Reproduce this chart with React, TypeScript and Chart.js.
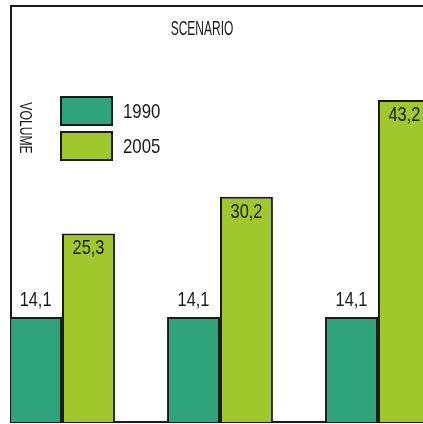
import React, { useEffect, useRef } from 'react';
import { Chart, registerables } from 'chart.js';

Chart.register(...registerables);

// ---- data ----
const groupPositions = [1, 2, 3];
const values1990 = [14.1, 14.1, 14.1];
const values2005 = [25.3, 30.2, 43.2];
const seriesNames = ['1990', '2005'];
const chartTitle = 'SCENARIO';
const axisLabel = 'VOLUME';
const xRange = [0.677, 3.285];
const yRange = [0, 55.8];

// ---- styles ----
const FONT = '"Liberation Sans", Arial, sans-serif';
const INK = '#1a1a1a';
const COLOR_1990 = '#2fa37b';
const COLOR_2005 = '#a0c72c';
const LEGEND_BOX_W = 51;
const LEGEND_BOX_H = 28;

function fmt(v: number) {
  return v.toFixed(1).replace('.', ',');
}

function drawText(
  ctx: CanvasRenderingContext2D,
  text: string,
  x: number,
  y: number,
  size: number,
  sx: number,
  rot: number,
  baseline: CanvasTextBaseline,
  align: CanvasTextAlign = 'center'
) {
  ctx.save();
  ctx.translate(x, y);
  ctx.rotate(rot);
  ctx.scale(sx, 1);
  ctx.font = `${size}px ${FONT}`;
  ctx.fillStyle = INK;
  ctx.textAlign = align;
  ctx.textBaseline = baseline;
  ctx.fillText(text, 0, 0);
  ctx.restore();
}

const legendPlacer = {
  id: 'legendPlacer',
  afterLayout(chart: any) {
    const lg = chart.legend;
    if (!lg) return;
    const pad = lg.options.labels.padding;
    const left = chart.chartArea.left + 50 - pad;
    const top = chart.chartArea.top + 91 - pad;
    const w = lg.width;
    const h = lg.height;
    lg.left = left;
    lg.top = top;
    lg.right = left + w;
    lg.bottom = top + h;
  },
};

const textPlugin = {
  id: 'textPlugin',
  afterDatasetsDraw(chart: any) {
    const ctx = chart.ctx as CanvasRenderingContext2D;
    chart.data.datasets.forEach((ds: any, di: number) => {
      const meta = chart.getDatasetMeta(di);
      meta.data.forEach((bar: any, i: number) => {
        const v = ds.data[i].y;
        if (di === 0) {
          drawText(ctx, fmt(v), bar.x, bar.y - 11, 21, 0.78, 0, 'alphabetic');
        } else {
          drawText(ctx, fmt(v), bar.x, bar.y + 21, 21, 0.78, 0, 'alphabetic');
        }
      });
    });
  },
  afterDraw(chart: any) {
    const ctx = chart.ctx as CanvasRenderingContext2D;
    const a = chart.chartArea;
    drawText(ctx, chartTitle, a.left + 191, a.top + 23, 20, 0.6, 0, 'middle');
    drawText(ctx, axisLabel, a.left + 13.5, a.top + 122, 16, 0.76, Math.PI / 2, 'middle');
    const lg = chart.legend;
    if (lg && lg.legendHitBoxes) {
      lg.legendHitBoxes.forEach((hb: any, i: number) => {
        drawText(
          ctx,
          seriesNames[i],
          hb.left + LEGEND_BOX_W + 11,
          hb.top + hb.height / 2 + 1,
          21,
          0.8,
          0,
          'middle',
          'left'
        );
      });
    }
  },
};

export default function App() {
  const ref = useRef<HTMLCanvasElement | null>(null);

  useEffect(() => {
    document.body.style.margin = '0';
    document.body.style.overflow = 'hidden';
    const canvas = ref.current;
    if (!canvas) return;
    const chart = new Chart(canvas, {
      type: 'bar',
      data: {
        datasets: [
          {
            label: seriesNames[0],
            data: groupPositions.map((x, i) => ({ x, y: values1990[i] })),
            backgroundColor: COLOR_1990,
            borderColor: INK,
            borderWidth: 2,
          },
          {
            label: seriesNames[1],
            data: groupPositions.map((x, i) => ({ x, y: values2005[i] })),
            backgroundColor: COLOR_2005,
            borderColor: INK,
            borderWidth: 2,
          },
        ],
      },
      options: {
        responsive: false,
        animation: false,
        layout: { padding: { left: 11, top: 6, right: 0, bottom: 2 } },
        datasets: { bar: { categoryPercentage: 0.67, barPercentage: 1 } },
        scales: {
          x: {
            type: 'linear',
            min: xRange[0],
            max: xRange[1],
            bounds: 'data',
            offset: false,
            afterBuildTicks: (scale: any) => {
              scale.ticks = groupPositions.map((v) => ({ value: v }));
            },
            ticks: { display: false },
            grid: { display: false, drawTicks: false, tickLength: 0 },
            border: { display: true, color: INK, width: 2 },
          },
          xTop: {
            type: 'linear',
            axis: 'x',
            position: 'top',
            offset: false,
            ticks: { display: false },
            grid: { display: false, drawTicks: false, tickLength: 0 },
            border: { display: true, color: INK, width: 2 },
          },
          y: {
            min: yRange[0],
            max: yRange[1],
            bounds: 'data',
            ticks: { display: false },
            grid: { display: false, drawTicks: false, tickLength: 0 },
            border: { display: true, color: INK, width: 2 },
          },
        },
        plugins: {
          title: { display: false },
          tooltip: { enabled: false },
          legend: {
            display: true,
            position: 'chartArea',
            align: 'start',
            labels: {
              boxWidth: LEGEND_BOX_W,
              boxHeight: LEGEND_BOX_H,
              padding: 7,
              color: 'rgba(0,0,0,0)',
              font: { family: FONT, size: 18 },
            },
          },
        },
      } as any,
      plugins: [legendPlacer, textPlugin],
    });
    return () => chart.destroy();
  }, []);

  return (
    <div style={{ width: 423, height: 424, overflow: 'hidden', background: '#fff' }}>
      <canvas ref={ref} width={423} height={424} style={{ display: 'block' }} />
    </div>
  );
}
